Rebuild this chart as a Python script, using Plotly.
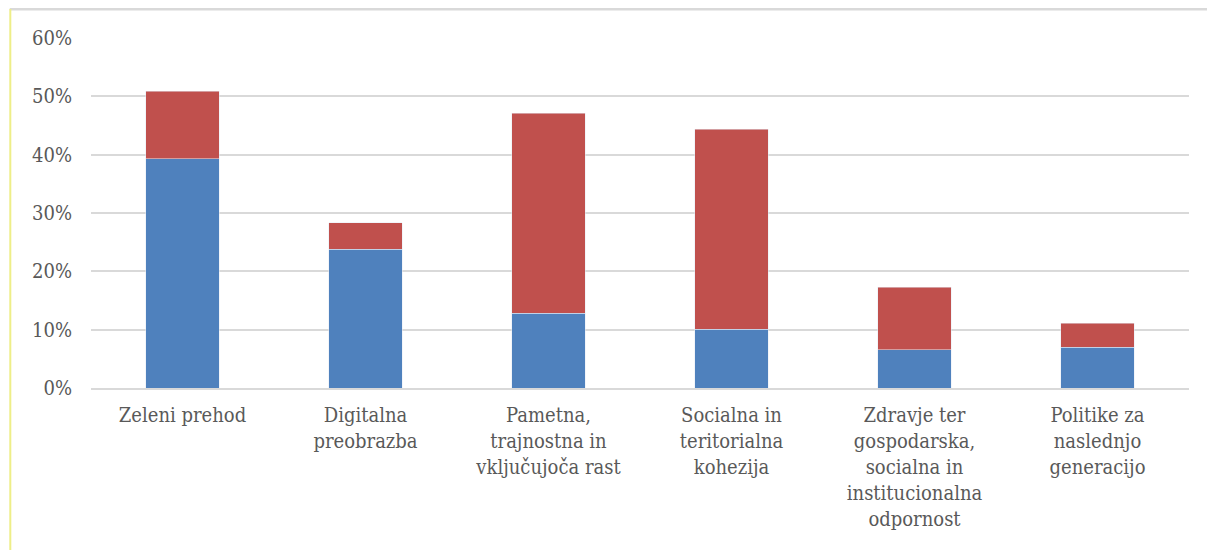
import plotly.graph_objects as go

# categories (x axis labels, line breaks as in the original)
categories = [
    "Zeleni prehod",
    "Digitalna<br>preobrazba",
    "Pametna,<br>trajnostna in<br>vključujoča rast",
    "Socialna in<br>teritorialna<br>kohezija",
    "Zdravje ter<br>gospodarska,<br>socialna in<br>institucionalna<br>odpornost",
    "Politike za<br>naslednjo<br>generacijo",
]

# lower (blue) and upper (red) parts of each stack, as shares
blue_values = [0.393, 0.238, 0.128, 0.101, 0.066, 0.070]
red_values = [0.116, 0.045, 0.343, 0.343, 0.107, 0.041]

fig = go.Figure()
fig.add_trace(go.Bar(x=categories, y=blue_values, marker_color="#4f81bd", name="blue"))
fig.add_trace(go.Bar(x=categories, y=red_values, marker_color="#c0504d", name="red"))

# page body has an 8px margin, so the figure is a bit smaller than the window
fig.update_layout(
    barmode="stack",
    bargap=0.6,
    width=1207,
    height=542,
    margin=dict(l=83, r=26, t=30, b=162),
    plot_bgcolor="white",
    paper_bgcolor="white",
    showlegend=False,
    font=dict(family="DejaVu Serif Condensed, DejaVu Serif", size=20, color="#595959"),
)

fig.update_yaxes(
    range=[0, 0.6],
    dtick=0.1,
    tickformat=".0%",
    showgrid=True,
    gridcolor="#d9d9d9",
    gridwidth=1.5,
    zeroline=False,
    ticks="",
    ticklabelstandoff=18,
)
fig.update_xaxes(
    showline=True,
    linecolor="#d9d9d9",
    linewidth=1.5,
    ticks="",
    tickangle=0,
    ticklabelstandoff=8,
)

# frame lines: gray on top, yellowish on the left
fig.add_shape(type="line", xref="paper", yref="paper",
              x0=-0.074, x1=1.03, y0=1.083, y1=1.083,
              line=dict(color="#d9d9d9", width=3))
fig.add_shape(type="line", xref="paper", yref="paper",
              x0=-0.0735, x1=-0.0735, y0=1.083, y1=-0.47,
              line=dict(color="#eeee88", width=2))

fig.write_html("out.html")
